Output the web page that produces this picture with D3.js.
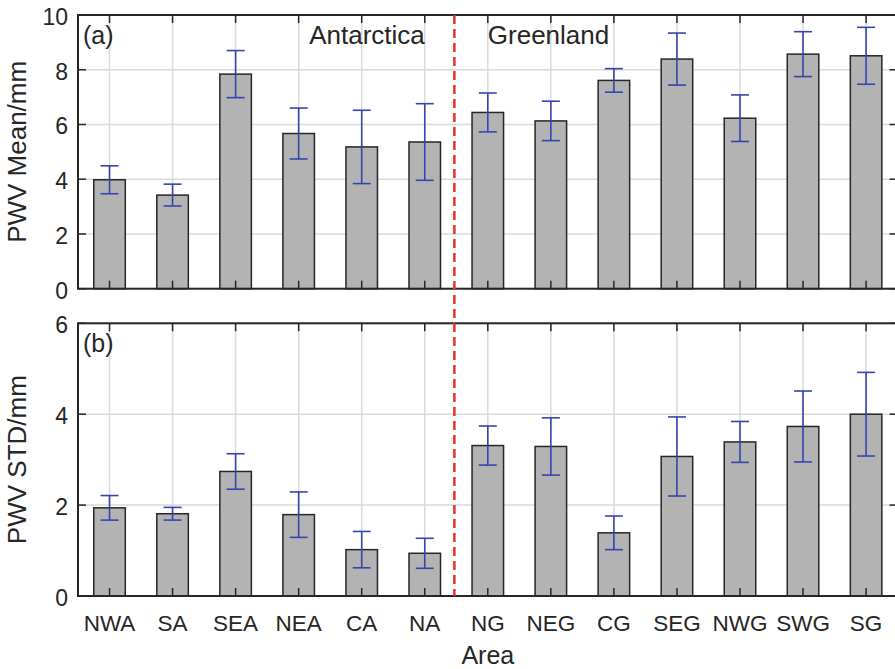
<!DOCTYPE html>
<html>
<head>
<meta charset="utf-8">
<script src="https://cdn.jsdelivr.net/npm/d3@7"></script>
<style>
    body { margin: 0; background: #fff; }
    svg text { font-family: "Liberation Sans", Arial, sans-serif; fill: #262626; }
</style>
</head>
<body>
<svg id="chart"></svg>
<script>
// areas along the x axis
let areas = ["NWA","SA","SEA","NEA","CA","NA","NG","NEG","CG","SEG","NWG","SWG","SG"];
// (a) mean PWV and its error half-width
let meanVal = [3.98,3.42,7.84,5.67,5.18,5.36,6.44,6.13,7.61,8.39,6.23,8.57,8.51];
let meanErr = [0.51,0.40,0.86,0.93,1.34,1.40,0.71,0.72,0.43,0.95,0.85,0.82,1.04];
// (b) STD of PWV and its error half-width
let stdVal = [1.94,1.81,2.74,1.79,1.02,0.94,3.31,3.29,1.39,3.07,3.39,3.73,4.00];
let stdErr = [0.27,0.14,0.39,0.50,0.40,0.33,0.43,0.63,0.37,0.87,0.45,0.78,0.92];
let meanTicks = [0,2,4,6,8,10];
let stdTicks = [0,2,4,6];
let dividerAt = 6.47;   // position of the Antarctica / Greenland divider

let width = 895, height = 669,
    left = 78, right = 897.6,
    svg = d3.select("#chart").attr("width", width).attr("height", height),
    xScale = d3.scaleLinear([0.5, areas.length + 0.5], [left, right]),
    step = xScale(2) - xScale(1),
    barW = step * 0.5,
    capW = 18,
    tickLen = 8;

function panel(vals, errs, ticks, top, bottom, ylabel, tag) {
    let yScale = d3.scaleLinear([0, d3.max(ticks)], [bottom, top]);
    let g = svg.append("g");

    // grid
    g.selectAll(".vgrid").data(areas).enter().append("line")
        .attr("x1", (d, i) => xScale(i + 1)).attr("x2", (d, i) => xScale(i + 1))
        .attr("y1", top).attr("y2", bottom)
        .attr("stroke", "#dadada").attr("stroke-width", 1.5);
    g.selectAll(".hgrid").data(ticks).enter().append("line")
        .attr("x1", left).attr("x2", right)
        .attr("y1", d => yScale(d)).attr("y2", d => yScale(d))
        .attr("stroke", "#dadada").attr("stroke-width", 1.5);

    // bars
    g.selectAll(".bar").data(vals).enter().append("rect")
        .attr("x", (d, i) => xScale(i + 1) - barW / 2)
        .attr("width", barW)
        .attr("y", d => yScale(d))
        .attr("height", d => bottom - yScale(d))
        .attr("fill", "#b3b3b3").attr("stroke", "#262626").attr("stroke-width", 1.5);

    // error bars
    let eb = g.selectAll(".err").data(vals).enter().append("g").attr("stroke", "#3545b0").attr("stroke-width", 1.6);
    eb.append("line")
        .attr("x1", (d, i) => xScale(i + 1)).attr("x2", (d, i) => xScale(i + 1))
        .attr("y1", (d, i) => yScale(d + errs[i])).attr("y2", (d, i) => yScale(d - errs[i]));
    eb.append("line")
        .attr("x1", (d, i) => xScale(i + 1) - capW / 2).attr("x2", (d, i) => xScale(i + 1) + capW / 2)
        .attr("y1", (d, i) => yScale(d + errs[i])).attr("y2", (d, i) => yScale(d + errs[i]));
    eb.append("line")
        .attr("x1", (d, i) => xScale(i + 1) - capW / 2).attr("x2", (d, i) => xScale(i + 1) + capW / 2)
        .attr("y1", (d, i) => yScale(d - errs[i])).attr("y2", (d, i) => yScale(d - errs[i]));

    // inner ticks on all four sides
    let tk = g.append("g").attr("stroke", "#262626").attr("stroke-width", 1.5);
    areas.forEach((a, i) => {
        tk.append("line").attr("x1", xScale(i + 1)).attr("x2", xScale(i + 1)).attr("y1", bottom).attr("y2", bottom - tickLen);
        tk.append("line").attr("x1", xScale(i + 1)).attr("x2", xScale(i + 1)).attr("y1", top).attr("y2", top + tickLen);
    });
    ticks.forEach(t => {
        tk.append("line").attr("x1", left).attr("x2", left + tickLen).attr("y1", yScale(t)).attr("y2", yScale(t));
        tk.append("line").attr("x1", right).attr("x2", right - tickLen).attr("y1", yScale(t)).attr("y2", yScale(t));
    });

    // frame
    g.append("rect").attr("x", left).attr("y", top).attr("width", right - left).attr("height", bottom - top)
        .attr("fill", "none").attr("stroke", "#262626").attr("stroke-width", 2);

    // y tick labels
    g.selectAll(".ylab").data(ticks).enter().append("text")
        .attr("x", left - 10).attr("y", d => yScale(d) + 10)
        .attr("text-anchor", "end").style("font-size", "23px")
        .text(d => d);

    g.append("text")
        .attr("transform", "translate(26," + ((top + bottom) / 2) + ") rotate(-90)")
        .attr("text-anchor", "middle").style("font-size", "26px")
        .text(ylabel);

    g.append("text").attr("x", left + 5).attr("y", top + 29)
        .style("font-size", "25px").text(tag);

    return yScale;
}

let yMean = panel(meanVal, meanErr, meanTicks, 15, 288.7, "PWV Mean/mm", "(a)");
let yStd = panel(stdVal, stdErr, stdTicks, 323.3, 596, "PWV STD/mm", "(b)");

// x tick labels and axis title
svg.selectAll(".xlab").data(areas).enter().append("text")
    .attr("x", (d, i) => xScale(i + 1)).attr("y", 631)
    .attr("text-anchor", "middle").style("font-size", "22.5px")
    .text(d => d);
svg.append("text").attr("x", (left + right) / 2).attr("y", 664)
    .attr("text-anchor", "middle").style("font-size", "25px").text("Area");

// region names
svg.append("text").attr("x", xScale(6)).attr("y", 44.3)
    .attr("text-anchor", "end").style("font-size", "26px").text("Antarctica");
svg.append("text").attr("x", xScale(7)).attr("y", 44.3)
    .attr("text-anchor", "start").style("font-size", "26px").text("Greenland");

// divider between the two regions
svg.append("line")
    .attr("x1", xScale(dividerAt)).attr("x2", xScale(dividerAt))
    .attr("y1", yMean(10)).attr("y2", yStd(0))
    .attr("stroke", "#e8302c").attr("stroke-width", 2.5).attr("stroke-dasharray", "9,5");
</script>
</body>
</html>
